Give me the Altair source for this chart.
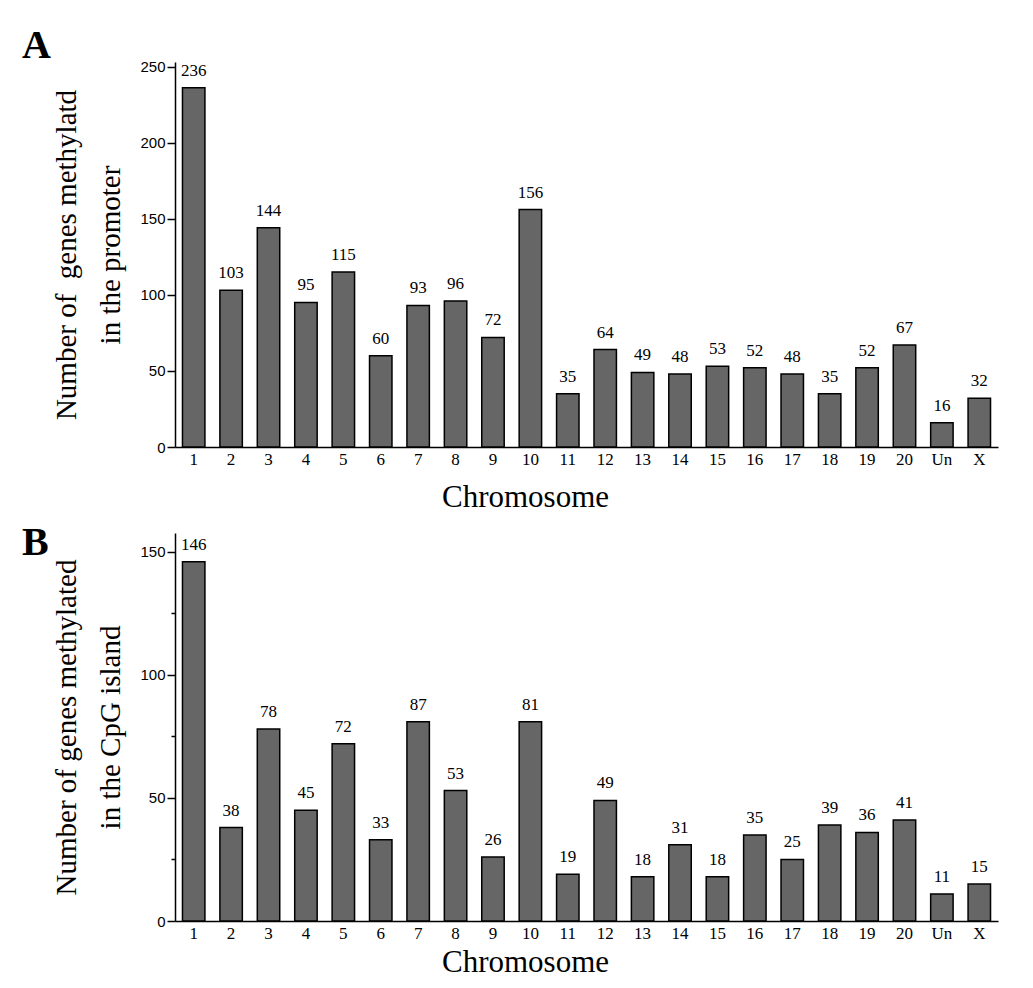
import altair as alt
import pandas as pd

chromosomes = ["1", "2", "3", "4", "5", "6", "7", "8", "9", "10", "11", "12",
               "13", "14", "15", "16", "17", "18", "19", "20", "Un", "X"]
promoter_counts = [236, 103, 144, 95, 115, 60, 93, 96, 72, 156, 35, 64,
                   49, 48, 53, 52, 48, 35, 52, 67, 16, 32]
cpg_counts = [146, 38, 78, 45, 72, 33, 87, 53, 26, 81, 19, 49,
              18, 31, 18, 35, 25, 39, 36, 41, 11, 15]
# drawn bar heights in panel B (bar 7 is drawn at the height of bar 10 in the figure)
cpg_bar_heights = [146, 38, 78, 45, 72, 33, 81, 53, 26, 81, 19, 49,
                   18, 31, 18, 35, 25, 39, 36, 41, 11, 15]

SERIF = "Liberation Serif"
SANS = "Liberation Sans"


def panel(labels, heights, letter, letter_y, title_lines, ymax, height, xtitle_y):
    df = pd.DataFrame({"chrom": chromosomes, "height": heights,
                       "label": [str(v) for v in labels]})
    x_enc = alt.X(
        "chrom:N", sort=chromosomes,
        scale=alt.Scale(paddingInner=0.4, paddingOuter=0.2),
        axis=alt.Axis(
            labelAngle=0, ticks=False, domainColor="black", domainWidth=1.5,
            labelFont=SERIF, labelFontSize=17, labelColor="black", labelPadding=4,
            title="Chromosome", titleFont=SERIF, titleFontSize=31,
            titleFontWeight="normal", titleColor="black",
            titleX=350, titleY=xtitle_y, titleBaseline="alphabetic",
        ),
    )
    y_scale = alt.Scale(domain=[0, ymax], nice=False, zero=True)
    y_axis = alt.Axis(
        values=list(range(0, int(ymax) + 1, 25)),
        labelExpr="datum.value % 50 == 0 ? datum.label : ''",
        tickSize={"condition": {"test": "datum.value % 50 == 0", "value": 8}, "value": 4},
        tickColor="black", tickWidth=1.5, grid=False,
        domainColor="black", domainWidth=1.5,
        labelFont=SANS, labelFontSize=15, labelColor="black", labelPadding=2,
        title=title_lines, titleFont=SERIF, titleFontSize=29,
        titleFontWeight="normal", titleColor="black", titleLineHeight=44,
        titlePadding=14,
    )
    base = alt.Chart(df).encode(x=x_enc)
    bars = base.mark_bar(color="#666666", stroke="black", strokeWidth=1.5).encode(
        y=alt.Y("height:Q", scale=y_scale, axis=y_axis)
    )
    text = base.mark_text(dy=-12, baseline="alphabetic", font=SERIF, fontSize=17,
                          color="black").encode(
        y=alt.Y("height:Q", scale=y_scale), text="label:N"
    )
    letter_mark = alt.Chart(pd.DataFrame({"t": [letter]})).mark_text(
        align="left", baseline="alphabetic", font=SERIF, fontSize=40,
        fontWeight="bold", color="black"
    ).encode(x=alt.value(-153), y=alt.value(letter_y), text="t:N")
    return alt.layer(bars, text, letter_mark).properties(width=823, height=height)


panel_a = panel(promoter_counts, promoter_counts, "A", -4,
                ["Number of\u00a0 genes methylatd", "in the promoter"], 253, 385, 59)
panel_b = panel(cpg_counts, cpg_bar_heights, "B", 22,
                ["Number of genes methylated", "in the CpG island"], 157.7, 388, 50)

chart = alt.vconcat(panel_a, panel_b, spacing=11).properties(
    padding={"left": 14, "top": 18, "right": 5, "bottom": 5},
    background="white",
).configure_view(stroke=None)

chart.save("out.html", embed_options={"renderer": "svg", "actions": False})
